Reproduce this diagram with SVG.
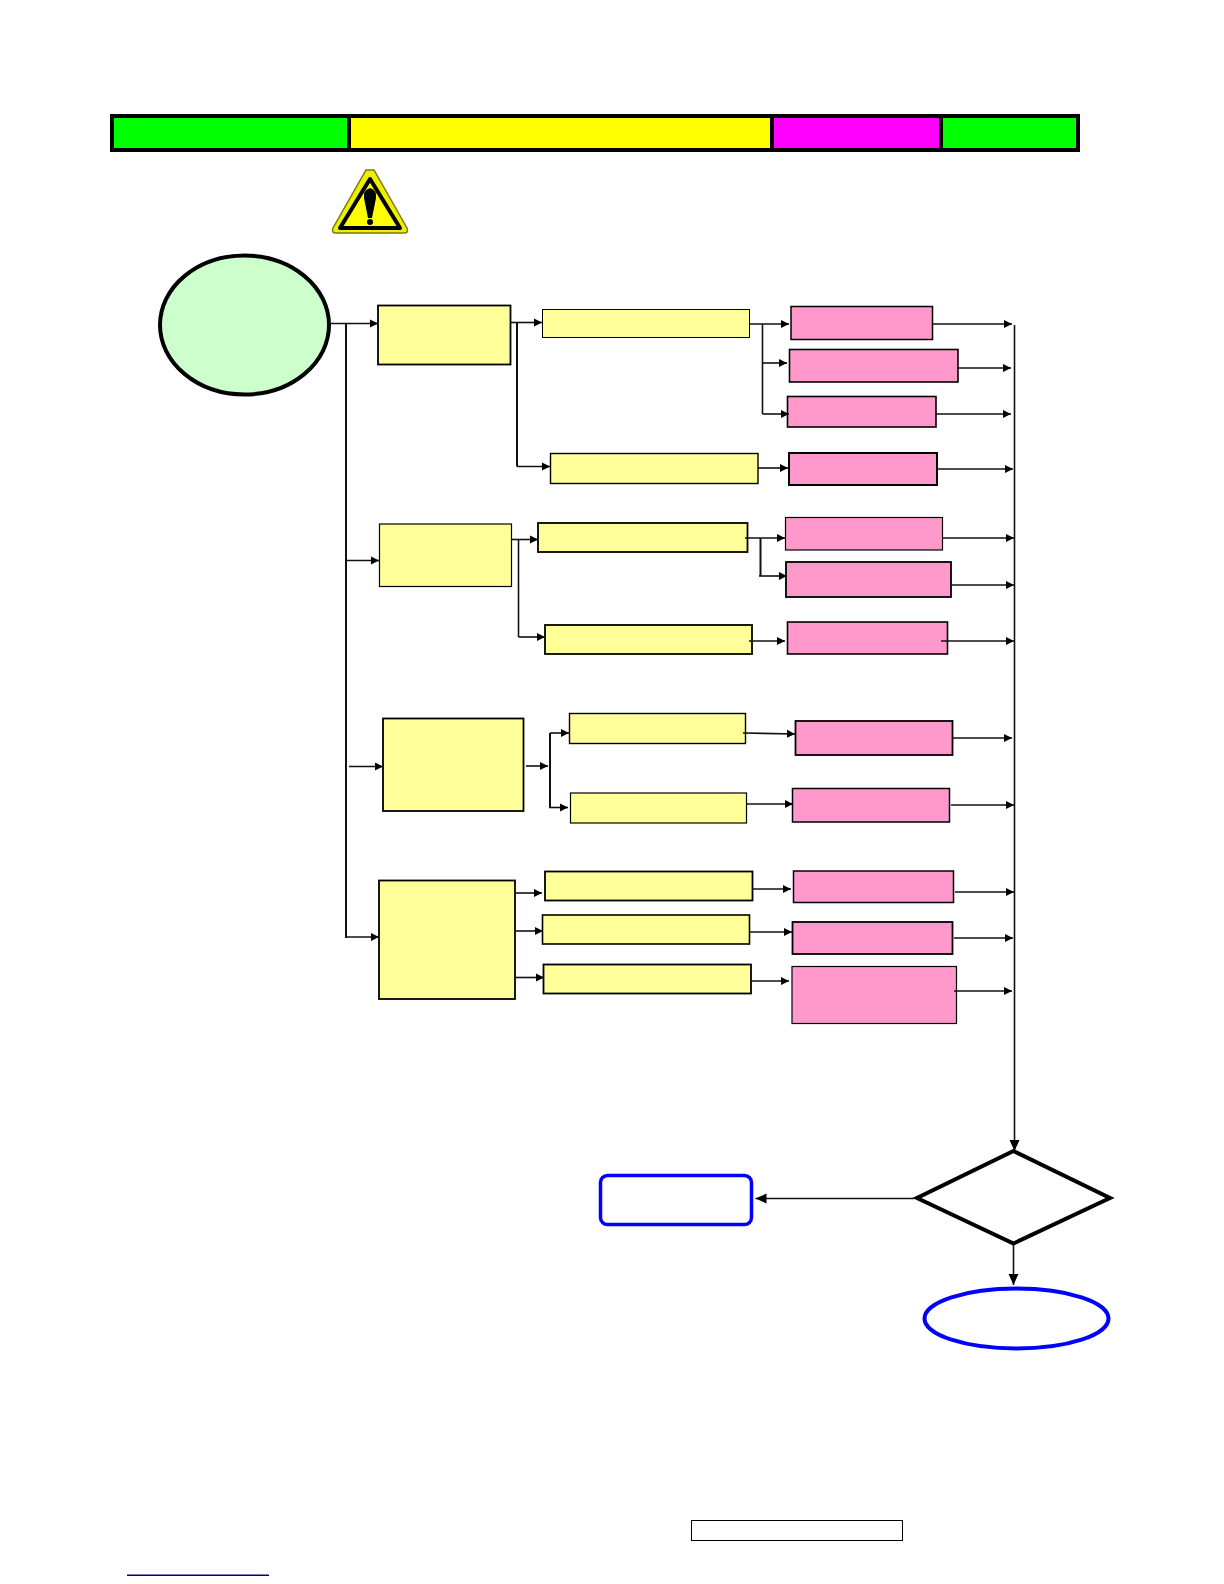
<svg xmlns="http://www.w3.org/2000/svg" width="1224" height="1584" viewBox="0 0 1224 1584">
<style>
.y{fill:#ffff99;stroke:#000}
.p{fill:#ff99cc;stroke:#000}
.c{fill:none;stroke:#111;stroke-width:1.600}
.a{marker-end:url(#ah)}
</style>
<defs>
<marker id="ah" markerUnits="userSpaceOnUse" markerWidth="9" markerHeight="9" refX="8" refY="4.500" orient="auto"><path d="M0 0.500L8 4.500L0 8.500Z" fill="#000"/></marker>
<marker id="ab" markerUnits="userSpaceOnUse" markerWidth="12" markerHeight="12" refX="11" refY="6" orient="auto"><path d="M0 1L11 6L0 11Z" fill="#000"/></marker>
</defs>
<rect width="1224" height="1584" fill="#fff"/>
<g id="header">
<rect x="110" y="114" width="970" height="38" fill="#000"/>
<rect x="114" y="118" width="233" height="30" fill="#0f0"/>
<rect x="351" y="118" width="419" height="30" fill="#ff0"/>
<rect x="774" y="118" width="165" height="30" fill="#f0f"/>
<rect x="943" y="118" width="133" height="30" fill="#0f0"/>
</g>
<g id="warning">
<path d="M366 170L374 170L407 228Q409 233 404 233L336 233Q331 233 333 228Z" fill="#eeee00" stroke="#7a7a10" stroke-width="1.500"/>
<path d="M370 179L400 228L340 228Z" fill="#ff0" stroke="#000" stroke-width="4" stroke-linejoin="round"/>
<path d="M370 188Q363 190 364 198L368 218L372 218L376 198Q377 190 370 188Z" fill="#000"/>
<circle cx="370" cy="222" r="3" fill="#000"/>
</g>
<g id="start"><ellipse cx="244.500" cy="325" rx="84.500" ry="69.500" fill="#ccffcc" stroke="#000" stroke-width="4"/></g>
<g id="nodes">
<rect id="a1" class="y" x="378" y="305.500" width="132.500" height="59" stroke-width="1.800"/>
<rect id="a2" class="y" x="379.500" y="524" width="132" height="62.500" stroke-width="1.200"/>
<rect id="a3" class="y" x="383" y="718.500" width="140.500" height="92.500" stroke-width="1.800"/>
<rect id="a4" class="y" x="379" y="880.500" width="136" height="118.500" stroke-width="1.800"/>
<rect id="b1" class="y" x="542.500" y="309.500" width="207" height="28" stroke-width="1"/>
<rect id="b2" class="y" x="550.500" y="453.500" width="207.500" height="30" stroke-width="1.400"/>
<rect id="b3" class="y" x="538" y="523" width="209.500" height="29" stroke-width="1.800"/>
<rect id="b4" class="y" x="545" y="625" width="207" height="29" stroke-width="1.800"/>
<rect id="b5" class="y" x="569.500" y="713.500" width="176" height="30" stroke-width="1.400"/>
<rect id="b6" class="y" x="570.500" y="793" width="176" height="30" stroke-width="1.200"/>
<rect id="b7" class="y" x="545" y="871.500" width="207.500" height="29" stroke-width="1.800"/>
<rect id="b8" class="y" x="542.500" y="915" width="207" height="29" stroke-width="1.600"/>
<rect id="b9" class="y" x="543.500" y="964.500" width="207.500" height="29" stroke-width="1.800"/>
<rect id="c1" class="p" x="791" y="306.500" width="141.500" height="33" stroke-width="1.500"/>
<rect id="c2" class="p" x="789.500" y="349.500" width="168.500" height="32.500" stroke-width="1.600"/>
<rect id="c3" class="p" x="787.500" y="396.500" width="148.500" height="30.500" stroke-width="1.600"/>
<rect id="c4" class="p" x="789" y="453" width="148" height="32" stroke-width="2"/>
<rect id="c5" class="p" x="785.500" y="517.500" width="157" height="32.500" stroke-width="1.200"/>
<rect id="c6" class="p" x="786" y="562" width="165" height="35" stroke-width="1.800"/>
<rect id="c7" class="p" x="787.500" y="622" width="160" height="32" stroke-width="1.600"/>
<rect id="c8" class="p" x="795.500" y="721" width="157" height="34" stroke-width="1.800"/>
<rect id="c9" class="p" x="792.500" y="788.500" width="157" height="33.500" stroke-width="1.500"/>
<rect id="c10" class="p" x="793.500" y="871" width="160" height="31.500" stroke-width="1.500"/>
<rect id="c11" class="p" x="792.500" y="922" width="160" height="32" stroke-width="1.800"/>
<rect id="c12" class="p" x="792" y="966.500" width="164.500" height="57" stroke-width="1.200"/>
</g>
<g id="decision"><path d="M1013.500 1151L1110 1198L1013.500 1243.500L917 1198Z" fill="#fff" stroke="#000" stroke-width="4"/></g>
<g id="end-a"><rect x="600.500" y="1175.500" width="151" height="49" rx="7" fill="#fff" stroke="#00f" stroke-width="3.500"/></g>
<g id="end-b"><ellipse cx="1016.500" cy="1318.500" rx="92" ry="30" fill="#fff" stroke="#00f" stroke-width="4"/></g>
<g id="footer"><rect x="691.500" y="1520.500" width="211" height="20" fill="#fff" stroke="#000" stroke-width="1"/>
<rect x="127" y="1574.500" width="142" height="1.500" fill="#000080"/></g>
<g id="connectors" class="c">
<path class="a" d="M331 323.500H378"/>
<path d="M346 323.500V938" stroke-width="2"/>
<path class="a" d="M346 560.500H379"/>
<path class="a" d="M349 766.500H383"/>
<path class="a" d="M346 937H379"/>
<path class="a" d="M510 322.500H542"/>
<path d="M517 322.500V466.500" stroke-width="2"/>
<path class="a" d="M517 466.500H550"/>
<path class="a" d="M511 539.500H538"/>
<path d="M518.500 539.500V637"/>
<path class="a" d="M518.500 637H545"/>
<path class="a" d="M526 766H548"/>
<path d="M550 733V808" stroke-width="2"/>
<path class="a" d="M550 733H569"/>
<path class="a" d="M549 807.500H568"/>
<path class="a" d="M515 893H542"/>
<path class="a" d="M515 931H543"/>
<path class="a" d="M514 977.500H544"/>
<path class="a" d="M750 324H789"/>
<path d="M762.500 324V414"/>
<path class="a" d="M762.500 363H787"/>
<path class="a" d="M762.500 414H789"/>
<path class="a" d="M758 468H788"/>
<path class="a" d="M745 538H785"/>
<path d="M760.500 538V576" stroke-width="2"/>
<path class="a" d="M759 576H787"/>
<path class="a" d="M749 641H785"/>
<path class="a" d="M743 733L795 734"/>
<path class="a" d="M746 804H793"/>
<path class="a" d="M753 889H791"/>
<path class="a" d="M749 932H792"/>
<path class="a" d="M752 981H789"/>
<path class="a" d="M932 324H1012"/>
<path class="a" d="M957 368H1011"/>
<path class="a" d="M936 414H1011"/>
<path class="a" d="M937 469H1013"/>
<path class="a" d="M943 538H1014"/>
<path class="a" d="M951 585H1014"/>
<path class="a" d="M941 641H1014"/>
<path class="a" d="M953 738H1012"/>
<path class="a" d="M951 805H1014"/>
<path class="a" d="M955 892H1014"/>
<path class="a" d="M954 938H1013"/>
<path class="a" d="M954 991H1012"/>
<path d="M1014.500 325V1151" style="marker-end:url(#ab)"/>
<path d="M914 1198.500H755.500" style="marker-end:url(#ab)"/>
<path d="M1013.500 1244V1285" style="marker-end:url(#ab)"/>
</g>
</svg>
